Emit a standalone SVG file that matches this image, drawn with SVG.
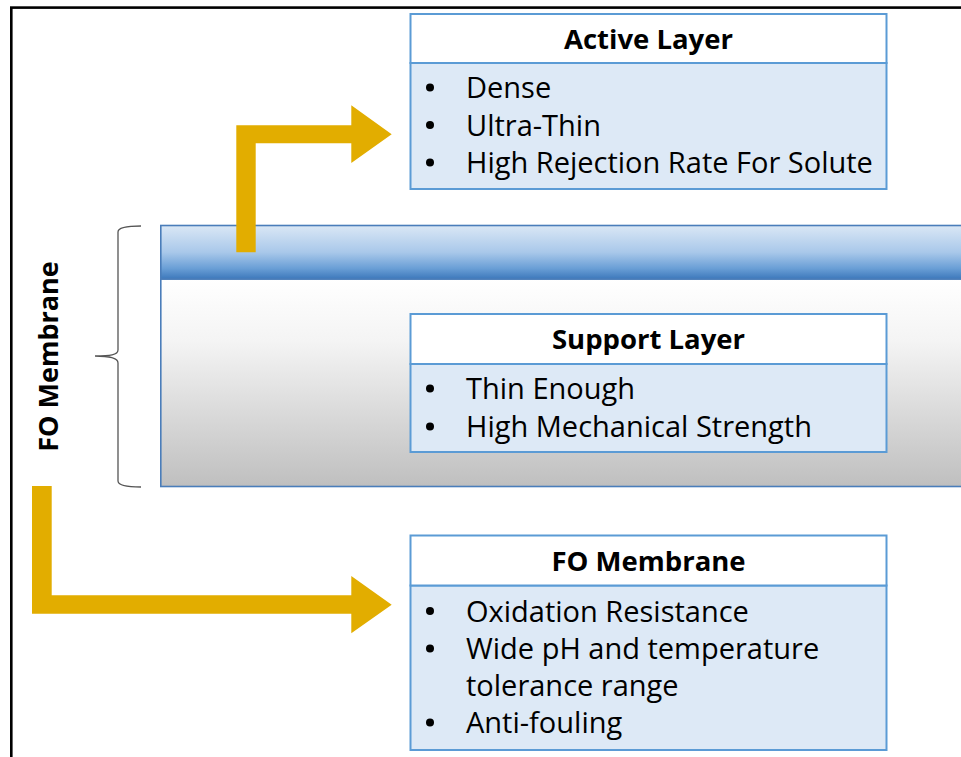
<svg xmlns="http://www.w3.org/2000/svg" width="961" height="757" viewBox="0 0 961 757">
  <defs>
    <linearGradient id="activeBand" x1="0" y1="0" x2="0" y2="1">
      <stop offset="0" stop-color="#DAE7F5"/>
      <stop offset="0.5" stop-color="#A9C8EA"/>
      <stop offset="0.8" stop-color="#6A9FD6"/>
      <stop offset="1" stop-color="#3D78BB"/>
    </linearGradient>
    <linearGradient id="supportBand" x1="0" y1="0" x2="0" y2="1">
      <stop offset="0" stop-color="#FFFFFF"/>
      <stop offset="0.3" stop-color="#F4F4F4"/>
      <stop offset="1" stop-color="#BFBFBF"/>
    </linearGradient>
    <style>
      .frame { fill: none; stroke: #000; stroke-width: 2.6; }
      .band { stroke: #4A7DBA; stroke-width: 1.6; }
      .head { fill: #FFFFFF; stroke: #5B9BD5; stroke-width: 2; }
      .body { fill: #DDE9F6; stroke: #5B9BD5; stroke-width: 2; }
      .arrow { fill: #E2AD00; }
      .brace { fill: none; stroke: #555; stroke-width: 1.3; }
      .dot { fill: #000; }
      text { font-family: "Open Sans", "Liberation Sans", sans-serif; fill: #000; }
      .title { font-size: 27.5px; font-weight: bold; text-anchor: middle; }
      .item { font-size: 29px; }
      .side { font-size: 27px; font-weight: bold; text-anchor: middle; }
    </style>
  </defs>

  <rect class="frame" x="11.3" y="7.6" width="1000" height="800"/>

  <!-- membrane cross-section: active layer on top of the support layer -->
  <g id="membrane">
    <rect class="band" x="160.8" y="279" width="820" height="207.5" fill="url(#supportBand)"/>
    <rect class="band" x="160.8" y="225.5" width="820" height="53.5" fill="url(#activeBand)"/>
  </g>

  <g id="brace">
    <path class="brace" d="M141,226 C128,226 118,227 118,232 L118,350 C118,355 110,356 95,356 C110,356 118,358 118,363 L118,481 C118,486 128,487 141,487"/>
  </g>

  <g id="side-label">
    <text class="side" transform="translate(57.5,356.5) rotate(-90)">FO Membrane</text>
  </g>

  <g id="connectors">
    <path class="arrow" d="M236.3,252.3 L236.3,125.3 L351.3,125.3 L351.3,105.3 L391.7,134.3 L351.3,163 L351.3,143.3 L255.7,143.3 L255.7,252.3 Z"/>
    <path class="arrow" d="M32,486 L51.7,486 L51.7,595.3 L351.3,595.3 L351.3,576 L391.7,604.7 L351.3,633.3 L351.3,613.7 L32,613.7 Z"/>
  </g>

  <g id="active-layer">
    <rect class="body" x="410.5" y="63" width="476" height="126"/>
    <rect class="head" x="410.5" y="14" width="476" height="49"/>
    <text class="title" x="648.5" y="49">Active Layer</text>
    <circle class="dot" cx="430" cy="87.5" r="4"/>
    <text class="item" x="466" y="98">Dense</text>
    <circle class="dot" cx="430" cy="125" r="4"/>
    <text class="item" x="466" y="136">Ultra-Thin</text>
    <circle class="dot" cx="430" cy="162.5" r="4"/>
    <text class="item" x="466" y="173">High Rejection Rate For Solute</text>
  </g>

  <g id="support-layer">
    <rect class="body" x="410.5" y="364" width="476" height="88"/>
    <rect class="head" x="410.5" y="314" width="476" height="50"/>
    <text class="title" x="648.5" y="349">Support Layer</text>
    <circle class="dot" cx="430" cy="388.5" r="4"/>
    <text class="item" x="466" y="399">Thin Enough</text>
    <circle class="dot" cx="430" cy="426.5" r="4"/>
    <text class="item" x="466" y="437">High Mechanical Strength</text>
  </g>

  <g id="fo-membrane">
    <rect class="body" x="410.5" y="585.5" width="476" height="164.5"/>
    <rect class="head" x="410.5" y="535.5" width="476" height="50"/>
    <text class="title" x="648.5" y="570.5">FO Membrane</text>
    <circle class="dot" cx="430" cy="611" r="4"/>
    <text class="item" x="466" y="621.5">Oxidation Resistance</text>
    <circle class="dot" cx="430" cy="648.5" r="4"/>
    <text class="item" x="466" y="659">Wide pH and temperature</text>
    <text class="item" x="466" y="696.3">tolerance range</text>
    <circle class="dot" cx="430" cy="722.5" r="4"/>
    <text class="item" x="466" y="733.3">Anti-fouling</text>
  </g>
</svg>
